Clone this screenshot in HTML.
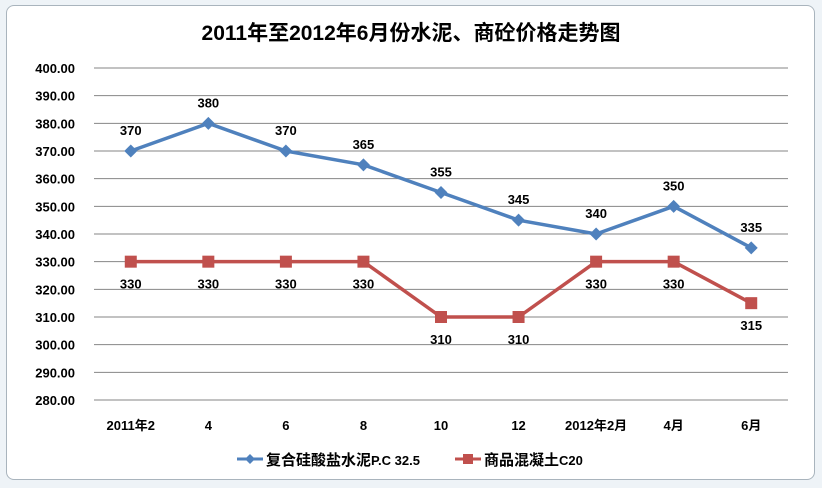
<!DOCTYPE html>
<html><head><meta charset="utf-8"><style>
body{margin:0;width:822px;height:488px;background:#eef3f7;overflow:hidden;font-family:"Liberation Sans","Noto Sans CJK SC",sans-serif}
#frame{position:absolute;left:6px;top:5px;width:809px;height:475px;background:#fff;border:1px solid #a9b4bd;border-radius:8px;box-sizing:border-box}
svg{position:absolute;left:0;top:0}
text{font-family:"Liberation Sans","Noto Sans CJK SC",sans-serif;font-weight:bold;fill:#000}
</style></head><body>
<div id="frame"></div>
<svg id="chart" width="822" height="488">
<text x="411" y="40" text-anchor="middle" font-size="21">2011年至2012年6月份水泥、商砼价格走势图</text>
<g id="grid"></g><g id="yticks"></g><g id="xticks"></g><g id="series"></g>
<g>
<g>
<line x1="237" y1="459" x2="263" y2="459" stroke="#4f81bd" stroke-width="3"/>
<path d="M250,454 L255,459 L250,464 L245,459Z" fill="#4f81bd"/>
<text x="266" y="465" font-size="15">复合硅酸盐水泥<tspan font-size="13">P.C 32.5</tspan></text></g>
<g>
<line x1="455" y1="459" x2="481" y2="459" stroke="#c0504d" stroke-width="3"/>
<rect x="463" y="454" width="10" height="10" fill="#c0504d"/>
<text x="484" y="465" font-size="15">商品混凝土<tspan font-size="13">C20</tspan></text></g>
</g>
</svg>
<script>
const categories=["2011年2","4","6","8","10","12","2012年2月","4月","6月"];
const cement=[370,380,370,365,355,345,340,350,335];
const concrete=[330,330,330,330,310,310,330,330,315];
const yTicks=[280,290,300,310,320,330,340,350,360,370,380,390,400];
const NS="http://www.w3.org/2000/svg";
const x0=92,x1=790,yMin=280,yMax=400,yTop=68,yBot=400;
const xs=i=>x0+(x1-x0)/categories.length*(i+0.5);
const ys=v=>yBot-(v-yMin)/(yMax-yMin)*(yBot-yTop);
function mk(tag,attrs,parent){const e=document.createElementNS(NS,tag);for(const k in attrs)e.setAttribute(k,attrs[k]);document.getElementById(parent).appendChild(e);return e;}
yTicks.forEach(v=>{
 if(v>yMin){const l=mk('line',{x1:94,x2:788,y1:ys(v),y2:ys(v),stroke:'#868686','stroke-width':1},'grid');
 
 }
 const t=mk('text',{x:75,y:ys(v)+5,'text-anchor':'end','font-size':13},'yticks');t.textContent=v.toFixed(2);
 
 
});
const ax=mk('line',{x1:94,x2:788,y1:yBot,y2:yBot,stroke:'#868686'},'grid');


categories.forEach((c,i)=>{const t=mk('text',{x:xs(i),y:430,'text-anchor':'middle','font-size':13},'xticks');t.textContent=c;
 
 });
function series(data,color,name,marker,labelAbove){
 const p=mk('polyline',{points:data.map((v,i)=>xs(i)+','+ys(v)).join(' '),fill:'none',stroke:color,'stroke-width':3.5,'stroke-linejoin':'round'},'series');
 
 
 data.forEach((v,i)=>{const x=xs(i),y=ys(v);let m;
  if(marker==='diamond')m=mk('path',{d:`M${x},${y-6.5} L${x+6.5},${y} L${x},${y+6.5} L${x-6.5},${y}Z`,fill:color},'series');
  else m=mk('rect',{x:x-6,y:y-6,width:12,height:12,fill:color},'series');
  
  
  const t=mk('text',{x:x,y:labelAbove?y-16:y+27,'text-anchor':'middle','font-size':13},'series');t.textContent=v;
  
  
 });
}
series(cement,'#4f81bd','cement','diamond',true);
series(concrete,'#c0504d','concrete','square',false);
</script>
</body></html>
